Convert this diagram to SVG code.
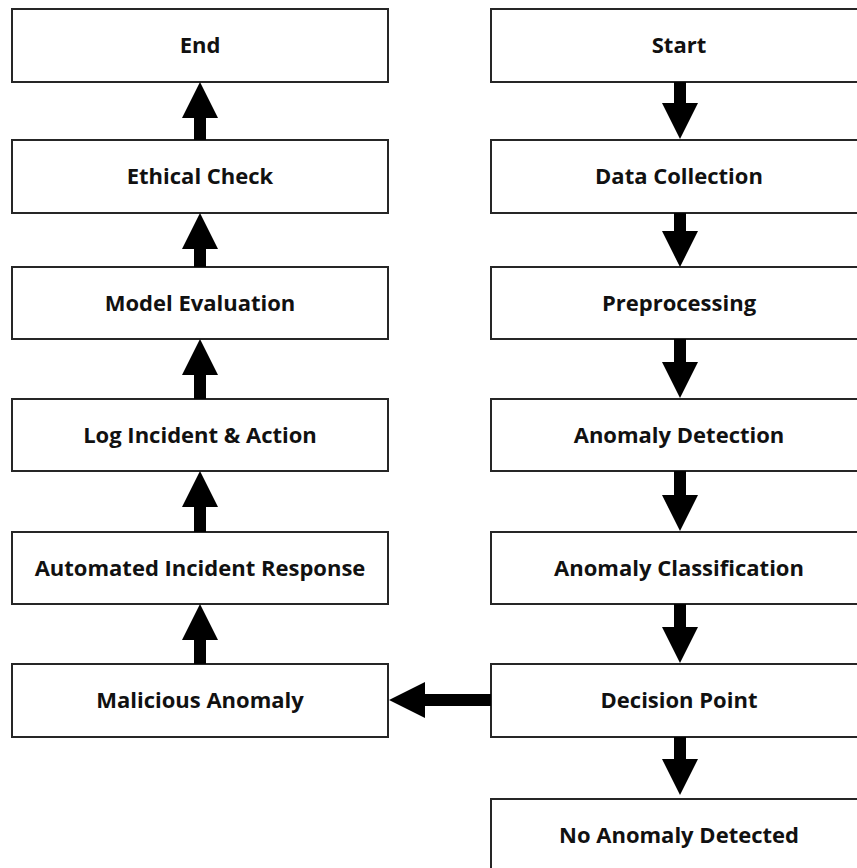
<svg xmlns="http://www.w3.org/2000/svg" width="857" height="868" viewBox="0 0 857 868">
<style>
.box{fill:#fff;stroke:#262626;stroke-width:2}
.lbl{font-family:"Open Sans","Liberation Sans",sans-serif;font-weight:bold;font-size:22px;fill:#111;text-anchor:middle}
.arr{fill:#000}
</style>
<rect width="857" height="868" fill="#fff"/>
<g id="end"><rect class="box" x="12" y="9" width="376" height="73"/><text class="lbl" x="200" y="53">End</text></g>
<g id="ethical-check"><rect class="box" x="12" y="140" width="376" height="73"/><text class="lbl" x="200" y="184">Ethical Check</text></g>
<g id="model-evaluation"><rect class="box" x="12" y="267" width="376" height="72"/><text class="lbl" x="200" y="311">Model Evaluation</text></g>
<g id="log-incident"><rect class="box" x="12" y="399" width="376" height="72"/><text class="lbl" x="200" y="443">Log Incident &amp; Action</text></g>
<g id="automated-response"><rect class="box" x="12" y="532" width="376" height="72"/><text class="lbl" x="200" y="576">Automated Incident Response</text></g>
<g id="malicious-anomaly"><rect class="box" x="12" y="664" width="376" height="73"/><text class="lbl" x="200" y="708">Malicious Anomaly</text></g>
<g id="start"><rect class="box" x="491" y="9" width="376" height="73"/><text class="lbl" x="679" y="53">Start</text></g>
<g id="data-collection"><rect class="box" x="491" y="140" width="376" height="73"/><text class="lbl" x="679" y="184">Data Collection</text></g>
<g id="preprocessing"><rect class="box" x="491" y="267" width="376" height="72"/><text class="lbl" x="679" y="311">Preprocessing</text></g>
<g id="anomaly-detection"><rect class="box" x="491" y="399" width="376" height="72"/><text class="lbl" x="679" y="443">Anomaly Detection</text></g>
<g id="anomaly-classification"><rect class="box" x="491" y="532" width="376" height="72"/><text class="lbl" x="679" y="576">Anomaly Classification</text></g>
<g id="decision-point"><rect class="box" x="491" y="664" width="376" height="73"/><text class="lbl" x="679" y="708">Decision Point</text></g>
<g id="no-anomaly"><rect class="box" x="491" y="799" width="376" height="80"/><text class="lbl" x="679" y="843">No Anomaly Detected</text></g>
<g id="connectors">
<polygon class="arr" points="200,82 218,118 206,118 206,140 194,140 194,118 182,118"/>
<polygon class="arr" points="200,213 218,249 206,249 206,267 194,267 194,249 182,249"/>
<polygon class="arr" points="200,339 218,375 206,375 206,399 194,399 194,375 182,375"/>
<polygon class="arr" points="200,471 218,507 206,507 206,532 194,532 194,507 182,507"/>
<polygon class="arr" points="200,604 218,640 206,640 206,664 194,664 194,640 182,640"/>
<polygon class="arr" points="680,139 698,103 686,103 686,82 674,82 674,103 662,103"/>
<polygon class="arr" points="680,267 698,231 686,231 686,213 674,213 674,231 662,231"/>
<polygon class="arr" points="680,398 698,362 686,362 686,339 674,339 674,362 662,362"/>
<polygon class="arr" points="680,531 698,495 686,495 686,471 674,471 674,495 662,495"/>
<polygon class="arr" points="680,663 698,627 686,627 686,604 674,604 674,627 662,627"/>
<polygon class="arr" points="680,795 698,759 686,759 686,737 674,737 674,759 662,759"/>
<polygon class="arr" points="389,700 425,682 425,694 491,694 491,706 425,706 425,718"/>
</g>
</svg>
